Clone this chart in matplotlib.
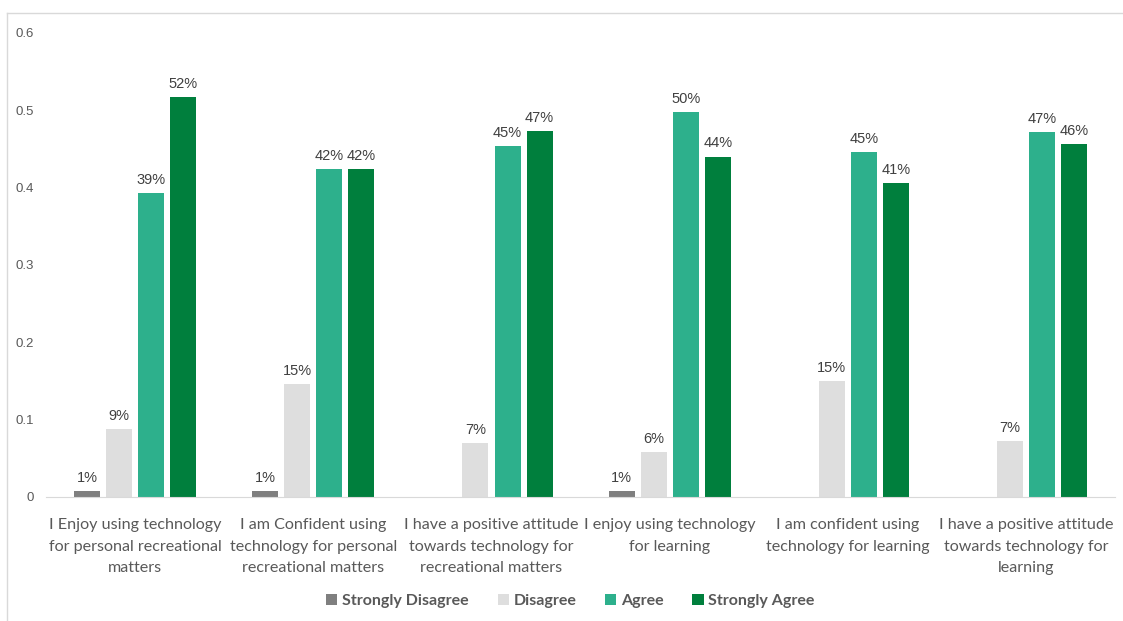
import matplotlib.pyplot as plt
import numpy as np
from matplotlib.lines import Line2D

# Data
categories = [
    'I Enjoy using technology\nfor personal recreational\nmatters',
    'I am Confident using\ntechnology for personal\nrecreational matters',
    'I have a positive attitude\ntowards technology for\nrecreational matters',
    'I enjoy using technology\nfor learning',
    'I am confident using\ntechnology for learning',
    'I have a positive attitude\ntowards technology for\nlearning',
]
series_names = ['Strongly Disagree', 'Disagree', 'Agree', 'Strongly Agree']
strongly_disagree = [0.007, 0.007, np.nan, 0.007, np.nan, np.nan]
disagree = [0.088, 0.146, 0.069, 0.058, 0.150, 0.072]
agree = [0.393, 0.424, 0.454, 0.498, 0.446, 0.472]
strongly_agree = [0.517, 0.424, 0.473, 0.440, 0.406, 0.456]
colors = ['#7f7f7f', '#dedede', '#2db08c', '#007f3d']

fig = plt.figure(figsize=(11.23, 6.21), dpi=100)
ax = fig.add_axes([0.041, 0.2, 0.952, 0.747])

x = np.arange(len(categories))
width = 0.146
step = 0.18
text_col = '#595959'

for i, (vals, c) in enumerate(zip([strongly_disagree, disagree, agree, strongly_agree], colors)):
    pos = x + (i - 1.5) * step
    v = np.array(vals, dtype=float)
    ax.bar(pos, np.nan_to_num(v), width, color=c, label=series_names[i])
    for p, val in zip(pos, v):
        if not np.isnan(val):
            ax.text(p, val + 0.008, f'{val:.0%}', ha='center', va='bottom',
                    fontsize=10.5, color='#404040', family='Liberation Sans')

ax.set_xlim(-0.5, len(categories) - 0.5)
ax.set_ylim(0, 0.6)
ax.set_yticks([0, 0.1, 0.2, 0.3, 0.4, 0.5, 0.6])
ax.set_yticklabels(['0', '0.1', '0.2', '0.3', '0.4', '0.5', '0.6'],
                   family='Liberation Sans', fontsize=9.5, color=text_col)
ax.set_xticks(x)
ax.set_xticklabels(categories, family='Lato', fontsize=11.6, color=text_col,
                   linespacing=1.72)
ax.tick_params(axis='both', length=0)
ax.tick_params(axis='y', pad=9)
ax.tick_params(axis='x', pad=15)
for s in ['top', 'right', 'left']:
    ax.spines[s].set_visible(False)
ax.spines['bottom'].set_color('#d9d9d9')

leg = fig.legend(loc='center', bbox_to_anchor=(0.508, 0.032), ncol=4, frameon=False,
                 prop={'family': 'Lato', 'weight': 'bold', 'size': 11.5},
                 handlelength=0.7, handleheight=0.7, handletextpad=0.3, columnspacing=1.8)
for t in leg.get_texts():
    t.set_color(text_col)

# Outer frame lines (top and left)
fig.add_artist(Line2D([7 / 1123, 1], [1 - 13 / 621, 1 - 13 / 621], color='#d9d9d9', lw=1))
fig.add_artist(Line2D([7 / 1123, 7 / 1123], [0, 1 - 13 / 621], color='#d9d9d9', lw=1))

fig.savefig('out.png', dpi=100)
